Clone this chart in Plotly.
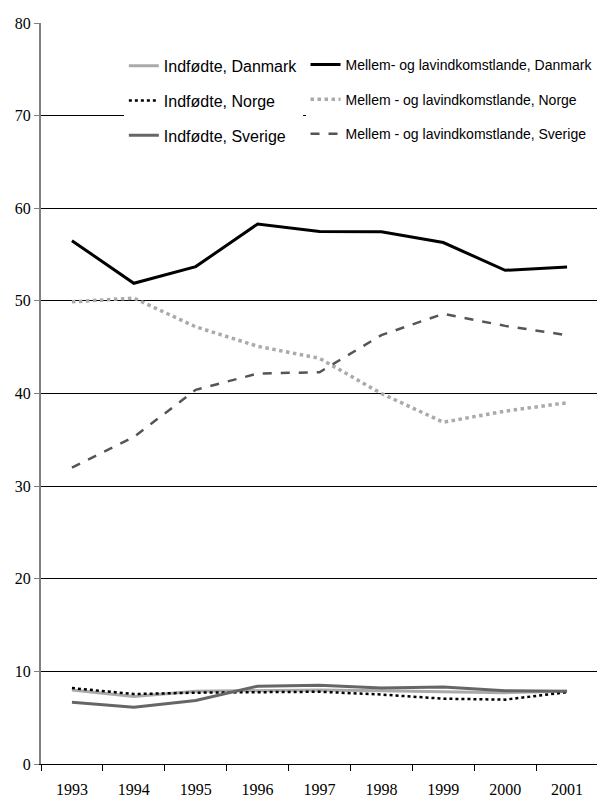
import plotly.graph_objects as go

years = ["1993", "1994", "1995", "1996", "1997", "1998", "1999", "2000", "2001"]

ind_dk = [8.0, 7.3, 7.85, 7.95, 8.0, 7.9, 7.8, 7.7, 7.85]
mel_dk = [56.5, 51.9, 53.7, 58.3, 57.5, 57.45, 56.3, 53.3, 53.65]
ind_no = [8.2, 7.55, 7.7, 7.75, 7.8, 7.5, 7.05, 6.95, 7.75]
mel_no = [49.9, 50.3, 47.2, 45.1, 43.8, 40.0, 36.9, 38.1, 39.0]
ind_se = [6.67, 6.13, 6.85, 8.4, 8.5, 8.2, 8.3, 7.9, 7.85]
mel_se = [32.0, 35.3, 40.4, 42.15, 42.3, 46.3, 48.6, 47.3, 46.3]

names_col1 = ["Indfødte, Danmark", "Indfødte, Norge", "Indfødte, Sverige"]
names_col2 = ["Mellem- og lavindkomstlande, Danmark",
              "Mellem - og lavindkomstlande, Norge",
              "Mellem - og lavindkomstlande, Sverige"]

fig = go.Figure()

col1 = [
    (ind_dk, dict(color="#aaaaaa", width=3, dash="solid")),
    (ind_no, dict(color="#000000", width=2.5, dash="dot")),
    (ind_se, dict(color="#666666", width=3, dash="solid")),
]
col2 = [
    (mel_dk, dict(color="#000000", width=3, dash="solid")),
    (mel_no, dict(color="#aaaaaa", width=3.5, dash="dot")),
    (mel_se, dict(color="#555555", width=2.5, dash="dash")),
]

for i, (vals, ln) in enumerate(col1):
    fig.add_trace(go.Scatter(x=years, y=vals, mode="lines", name=names_col1[i],
                             line=ln, legend="legend", legendgroup="a%d" % i))
for i, (vals, ln) in enumerate(col2):
    fig.add_trace(go.Scatter(x=years, y=vals, mode="lines", name=names_col2[i],
                             line=ln, legend="legend2", legendgroup="b%d" % i))

# page body has an 8px margin; compensate so the plot lands where the reference has it
OFF = 8
W, H = 605 - OFF, 805 - OFF
L, R, T, B = 40 - OFF, 7, 19 - OFF, 40
PW = W - L - R
PH = H - T - B

def px_x(p):
    return (p - OFF - L) / PW

def px_y(p):
    return 1 - (p - OFF - T) / PH

fig.update_layout(
    width=W, height=H,
    margin=dict(l=L, r=R, t=T, b=B),
    plot_bgcolor="white", paper_bgcolor="white",
    font=dict(family="Liberation Serif", size=16, color="black"),
    legend=dict(x=px_x(123), y=px_y(45),
                xanchor="left", yanchor="top", bgcolor="white",
                font=dict(family="Liberation Sans", size=16, color="black"),
                tracegroupgap=11, orientation="v"),
    legend2=dict(x=px_x(305), y=px_y(45),
                 xanchor="left", yanchor="top", bgcolor="white",
                 font=dict(family="Liberation Sans", size=14, color="black"),
                 tracegroupgap=13.5, orientation="v"),
    xaxis=dict(type="category", range=[-0.5, 8.5], showgrid=False,
               showline=True, linecolor="black", linewidth=1,
               ticks="outside", tickson="boundaries", ticklen=6, tickcolor="black",
               ticklabelstandoff=11,
               tickfont=dict(family="Liberation Serif", size=16)),
    yaxis=dict(range=[0, 80], dtick=10, showgrid=True, gridcolor="black", gridwidth=1,
               showline=True, linecolor="#808080", linewidth=2,
               ticks="outside", ticklen=5, tickcolor="#808080",
               zeroline=False,
               tickfont=dict(family="Liberation Serif", size=16)),
)

fig.write_html("out.html")
